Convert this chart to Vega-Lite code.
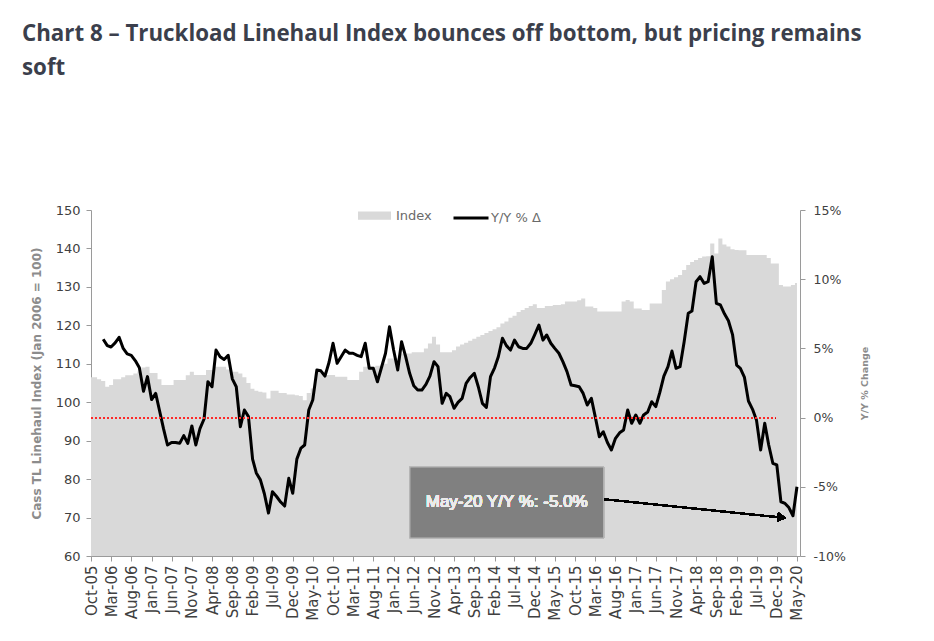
{
  "$schema": "https://vega.github.io/schema/vega-lite/v6.json",
  "width": 709,
  "height": 346,
  "autosize": {"type": "none"},
  "padding": {"left": 91, "top": 210, "right": 134, "bottom": 85},
  "background": "white",
  "config": {"view": {"stroke": null}, "axisX": {"labelOverlap": false}},
  "title": {
    "text": ["Chart 8 – Truckload Linehaul Index bounces off bottom, but pricing remains", "soft"],
    "anchor": "start",
    "frame": "group",
    "dx": -69,
    "dy": -120,
    "offset": 0,
    "font": "Open Sans",
    "fontWeight": "bold",
    "fontSize": 22.3,
    "color": "#3b3f4c",
    "lineHeight": 34
  },
  "data": {
    "values": [
      {"d": "2005-10-01", "idx": 106.5, "yoy": null},
      {"d": "2005-11-01", "idx": 106.5, "yoy": null},
      {"d": "2005-12-01", "idx": 106, "yoy": null},
      {"d": "2006-01-01", "idx": 105.5, "yoy": 5.66},
      {"d": "2006-02-01", "idx": 104, "yoy": 5.2},
      {"d": "2006-03-01", "idx": 104.5, "yoy": 5.1},
      {"d": "2006-04-01", "idx": 106, "yoy": 5.4},
      {"d": "2006-05-01", "idx": 106, "yoy": 5.8},
      {"d": "2006-06-01", "idx": 106.5, "yoy": 5.0},
      {"d": "2006-07-01", "idx": 107, "yoy": 4.6},
      {"d": "2006-08-01", "idx": 107, "yoy": 4.5},
      {"d": "2006-09-01", "idx": 107.5, "yoy": 4.1},
      {"d": "2006-10-01", "idx": 108, "yoy": 3.6},
      {"d": "2006-11-01", "idx": 109, "yoy": 1.9},
      {"d": "2006-12-01", "idx": 109.2, "yoy": 2.96},
      {"d": "2007-01-01", "idx": 107.6, "yoy": 1.3},
      {"d": "2007-02-01", "idx": 107.6, "yoy": 1.75},
      {"d": "2007-03-01", "idx": 106, "yoy": 0.55},
      {"d": "2007-04-01", "idx": 104.5, "yoy": -0.8},
      {"d": "2007-05-01", "idx": 104.5, "yoy": -1.98},
      {"d": "2007-06-01", "idx": 104.5, "yoy": -1.8},
      {"d": "2007-07-01", "idx": 105.8, "yoy": -1.8},
      {"d": "2007-08-01", "idx": 105.8, "yoy": -1.86},
      {"d": "2007-09-01", "idx": 105.8, "yoy": -1.3},
      {"d": "2007-10-01", "idx": 107, "yoy": -1.86},
      {"d": "2007-11-01", "idx": 107.9, "yoy": -0.6},
      {"d": "2007-12-01", "idx": 107.1, "yoy": -1.98},
      {"d": "2008-01-01", "idx": 107.1, "yoy": -0.8},
      {"d": "2008-02-01", "idx": 107.1, "yoy": -0.1},
      {"d": "2008-03-01", "idx": 108.4, "yoy": 2.59},
      {"d": "2008-04-01", "idx": 108.4, "yoy": 2.23},
      {"d": "2008-05-01", "idx": 109.2, "yoy": 4.88},
      {"d": "2008-06-01", "idx": 109.2, "yoy": 4.4},
      {"d": "2008-07-01", "idx": 109.2, "yoy": 4.2},
      {"d": "2008-08-01", "idx": 108.5, "yoy": 4.5},
      {"d": "2008-09-01", "idx": 107.9, "yoy": 2.8},
      {"d": "2008-10-01", "idx": 107.9, "yoy": 2.23},
      {"d": "2008-11-01", "idx": 107.5, "yoy": -0.66},
      {"d": "2008-12-01", "idx": 106.5, "yoy": 0.55},
      {"d": "2009-01-01", "idx": 105, "yoy": 0.07},
      {"d": "2009-02-01", "idx": 103.5, "yoy": -3.0},
      {"d": "2009-03-01", "idx": 103, "yoy": -4.0},
      {"d": "2009-04-01", "idx": 102.7, "yoy": -4.5},
      {"d": "2009-05-01", "idx": 102.5, "yoy": -5.5},
      {"d": "2009-06-01", "idx": 101, "yoy": -6.9},
      {"d": "2009-07-01", "idx": 103, "yoy": -5.35},
      {"d": "2009-08-01", "idx": 103, "yoy": -5.7},
      {"d": "2009-09-01", "idx": 102.4, "yoy": -6.1},
      {"d": "2009-10-01", "idx": 102.4, "yoy": -6.39},
      {"d": "2009-11-01", "idx": 102, "yoy": -4.39},
      {"d": "2009-12-01", "idx": 102, "yoy": -5.47},
      {"d": "2010-01-01", "idx": 101.8, "yoy": -3.0},
      {"d": "2010-02-01", "idx": 101.6, "yoy": -2.2},
      {"d": "2010-03-01", "idx": 100.5, "yoy": -1.98},
      {"d": "2010-04-01", "idx": 102.4, "yoy": 0.55},
      {"d": "2010-05-01", "idx": 103.6, "yoy": 1.27},
      {"d": "2010-06-01", "idx": 107.9, "yoy": 3.44},
      {"d": "2010-07-01", "idx": 107.9, "yoy": 3.38},
      {"d": "2010-08-01", "idx": 107.9, "yoy": 3.0},
      {"d": "2010-09-01", "idx": 107.1, "yoy": 4.0},
      {"d": "2010-10-01", "idx": 107.1, "yoy": 5.37},
      {"d": "2010-11-01", "idx": 106.6, "yoy": 3.92},
      {"d": "2010-12-01", "idx": 106.6, "yoy": 4.4},
      {"d": "2011-01-01", "idx": 106.6, "yoy": 4.88},
      {"d": "2011-02-01", "idx": 105.8, "yoy": 4.65},
      {"d": "2011-03-01", "idx": 105.8, "yoy": 4.65},
      {"d": "2011-04-01", "idx": 105.8, "yoy": 4.5},
      {"d": "2011-05-01", "idx": 107.9, "yoy": 4.4},
      {"d": "2011-06-01", "idx": 109.2, "yoy": 5.37},
      {"d": "2011-07-01", "idx": 109.2, "yoy": 3.56},
      {"d": "2011-08-01", "idx": 109.2, "yoy": 3.56},
      {"d": "2011-09-01", "idx": 109.5, "yoy": 2.59},
      {"d": "2011-10-01", "idx": 109.5, "yoy": 3.6},
      {"d": "2011-11-01", "idx": 110, "yoy": 4.65},
      {"d": "2011-12-01", "idx": 111.4, "yoy": 6.57},
      {"d": "2012-01-01", "idx": 111.4, "yoy": 4.88},
      {"d": "2012-02-01", "idx": 111.4, "yoy": 3.44},
      {"d": "2012-03-01", "idx": 112.7, "yoy": 5.48},
      {"d": "2012-04-01", "idx": 112.7, "yoy": 4.4},
      {"d": "2012-05-01", "idx": 112.7, "yoy": 3.2},
      {"d": "2012-06-01", "idx": 113, "yoy": 2.3},
      {"d": "2012-07-01", "idx": 113, "yoy": 2.0},
      {"d": "2012-08-01", "idx": 113, "yoy": 1.99},
      {"d": "2012-09-01", "idx": 114, "yoy": 2.4},
      {"d": "2012-10-01", "idx": 115.3, "yoy": 3.0},
      {"d": "2012-11-01", "idx": 117, "yoy": 4.04},
      {"d": "2012-12-01", "idx": 115, "yoy": 3.68},
      {"d": "2013-01-01", "idx": 113, "yoy": 1.03},
      {"d": "2013-02-01", "idx": 113, "yoy": 1.75},
      {"d": "2013-03-01", "idx": 113, "yoy": 1.51},
      {"d": "2013-04-01", "idx": 113.5, "yoy": 0.67},
      {"d": "2013-05-01", "idx": 114.5, "yoy": 1.1},
      {"d": "2013-06-01", "idx": 115, "yoy": 1.39},
      {"d": "2013-07-01", "idx": 115.5, "yoy": 2.48},
      {"d": "2013-08-01", "idx": 116, "yoy": 2.9},
      {"d": "2013-09-01", "idx": 116.5, "yoy": 3.2},
      {"d": "2013-10-01", "idx": 117, "yoy": 2.23},
      {"d": "2013-11-01", "idx": 117.5, "yoy": 1.03},
      {"d": "2013-12-01", "idx": 118, "yoy": 0.74},
      {"d": "2014-01-01", "idx": 118.5, "yoy": 2.96},
      {"d": "2014-02-01", "idx": 119, "yoy": 3.6},
      {"d": "2014-03-01", "idx": 119.5, "yoy": 4.4},
      {"d": "2014-04-01", "idx": 120.5, "yoy": 5.73},
      {"d": "2014-05-01", "idx": 121, "yoy": 5.2},
      {"d": "2014-06-01", "idx": 122, "yoy": 4.88},
      {"d": "2014-07-01", "idx": 122.5, "yoy": 5.6},
      {"d": "2014-08-01", "idx": 123.5, "yoy": 5.12},
      {"d": "2014-09-01", "idx": 124, "yoy": 5.0},
      {"d": "2014-10-01", "idx": 124.5, "yoy": 5.0},
      {"d": "2014-11-01", "idx": 125, "yoy": 5.37},
      {"d": "2014-12-01", "idx": 125.5, "yoy": 6.0},
      {"d": "2015-01-01", "idx": 124.5, "yoy": 6.69},
      {"d": "2015-02-01", "idx": 124.5, "yoy": 5.6},
      {"d": "2015-03-01", "idx": 125, "yoy": 5.97},
      {"d": "2015-04-01", "idx": 125, "yoy": 5.37},
      {"d": "2015-05-01", "idx": 125.3, "yoy": 5.0},
      {"d": "2015-06-01", "idx": 125.3, "yoy": 4.65},
      {"d": "2015-07-01", "idx": 125.5, "yoy": 4.04},
      {"d": "2015-08-01", "idx": 126.2, "yoy": 3.32},
      {"d": "2015-09-01", "idx": 126.2, "yoy": 2.36},
      {"d": "2015-10-01", "idx": 126.2, "yoy": 2.3},
      {"d": "2015-11-01", "idx": 126.5, "yoy": 2.23},
      {"d": "2015-12-01", "idx": 127, "yoy": 1.75},
      {"d": "2016-01-01", "idx": 124.9, "yoy": 0.91},
      {"d": "2016-02-01", "idx": 124.9, "yoy": 1.39},
      {"d": "2016-03-01", "idx": 124.5, "yoy": 0.07},
      {"d": "2016-04-01", "idx": 123.6, "yoy": -1.38},
      {"d": "2016-05-01", "idx": 123.6, "yoy": -1.02},
      {"d": "2016-06-01", "idx": 123.6, "yoy": -1.8},
      {"d": "2016-07-01", "idx": 123.6, "yoy": -2.34},
      {"d": "2016-08-01", "idx": 123.6, "yoy": -1.5},
      {"d": "2016-09-01", "idx": 123.6, "yoy": -1.1},
      {"d": "2016-10-01", "idx": 126.2, "yoy": -0.9},
      {"d": "2016-11-01", "idx": 126.6, "yoy": 0.55},
      {"d": "2016-12-01", "idx": 126.2, "yoy": -0.41},
      {"d": "2017-01-01", "idx": 124.4, "yoy": 0.19},
      {"d": "2017-02-01", "idx": 124.4, "yoy": -0.41},
      {"d": "2017-03-01", "idx": 124, "yoy": 0.19},
      {"d": "2017-04-01", "idx": 124, "yoy": 0.4},
      {"d": "2017-05-01", "idx": 125.7, "yoy": 1.15},
      {"d": "2017-06-01", "idx": 125.7, "yoy": 0.79},
      {"d": "2017-07-01", "idx": 125.7, "yoy": 1.8},
      {"d": "2017-08-01", "idx": 129.2, "yoy": 3.0},
      {"d": "2017-09-01", "idx": 131.4, "yoy": 3.68},
      {"d": "2017-10-01", "idx": 132, "yoy": 4.81},
      {"d": "2017-11-01", "idx": 132.5, "yoy": 3.56},
      {"d": "2017-12-01", "idx": 133.1, "yoy": 3.68},
      {"d": "2018-01-01", "idx": 134.4, "yoy": 5.48},
      {"d": "2018-02-01", "idx": 135.7, "yoy": 7.54},
      {"d": "2018-03-01", "idx": 136.5, "yoy": 7.7},
      {"d": "2018-04-01", "idx": 137, "yoy": 9.82},
      {"d": "2018-05-01", "idx": 137.5, "yoy": 10.18},
      {"d": "2018-06-01", "idx": 137.9, "yoy": 9.7},
      {"d": "2018-07-01", "idx": 138, "yoy": 9.82},
      {"d": "2018-08-01", "idx": 141.3, "yoy": 11.63},
      {"d": "2018-09-01", "idx": 138.7, "yoy": 8.26},
      {"d": "2018-10-01", "idx": 142.6, "yoy": 8.14},
      {"d": "2018-11-01", "idx": 141, "yoy": 7.5},
      {"d": "2018-12-01", "idx": 140.5, "yoy": 7.0},
      {"d": "2019-01-01", "idx": 139.8, "yoy": 6.0},
      {"d": "2019-02-01", "idx": 139.6, "yoy": 3.8},
      {"d": "2019-03-01", "idx": 139.5, "yoy": 3.56},
      {"d": "2019-04-01", "idx": 139.5, "yoy": 2.9},
      {"d": "2019-05-01", "idx": 138.3, "yoy": 1.2},
      {"d": "2019-06-01", "idx": 138.3, "yoy": 0.6},
      {"d": "2019-07-01", "idx": 138.3, "yoy": -0.2},
      {"d": "2019-08-01", "idx": 138.3, "yoy": -2.34},
      {"d": "2019-09-01", "idx": 138.3, "yoy": -0.41},
      {"d": "2019-10-01", "idx": 137.5, "yoy": -1.98},
      {"d": "2019-11-01", "idx": 136.1, "yoy": -3.3},
      {"d": "2019-12-01", "idx": 136.1, "yoy": -3.42},
      {"d": "2020-01-01", "idx": 130.5, "yoy": -6.08},
      {"d": "2020-02-01", "idx": 130.1, "yoy": -6.2},
      {"d": "2020-03-01", "idx": 130.1, "yoy": -6.5},
      {"d": "2020-04-01", "idx": 130.5, "yoy": -7.09},
      {"d": "2020-05-01", "idx": 131, "yoy": -5.0}
    ]
  },
  "layer": [
    {
      "mark": {"type": "area", "interpolate": "step", "color": "#d9d9d9"},
      "encoding": {
        "x": {
          "field": "d",
          "type": "temporal",
          "title": null,
          "scale": {
            "type": "utc",
            "domain": [
              {"year": 2005, "month": 10, "date": 1, "utc": true},
              {"year": 2020, "month": 5, "date": 24, "utc": true}
            ]
          },
          "axis": {
            "title": null,
            "orient": "bottom",
            "labelExpr": "utcFormat(datum.value, '%b-%y')",
            "labelAngle": 270,
            "labelFont": "DejaVu Sans",
            "labelFontSize": 15,
            "labelColor": "#404040",
            "labelPadding": 4,
            "tickSize": 5,
            "tickCount": 60,
            "tickColor": "#9a9a9a",
            "domainColor": "#9a9a9a",
            "grid": false,
            "labelOverlap": false,
            "labelFlush": false,
            "values": [
              {"year": 2005, "month": 10, "date": 1, "utc": true},
              {"year": 2006, "month": 3, "date": 1, "utc": true},
              {"year": 2006, "month": 8, "date": 1, "utc": true},
              {"year": 2007, "month": 1, "date": 1, "utc": true},
              {"year": 2007, "month": 6, "date": 1, "utc": true},
              {"year": 2007, "month": 11, "date": 1, "utc": true},
              {"year": 2008, "month": 4, "date": 1, "utc": true},
              {"year": 2008, "month": 9, "date": 1, "utc": true},
              {"year": 2009, "month": 2, "date": 1, "utc": true},
              {"year": 2009, "month": 7, "date": 1, "utc": true},
              {"year": 2009, "month": 12, "date": 1, "utc": true},
              {"year": 2010, "month": 5, "date": 1, "utc": true},
              {"year": 2010, "month": 10, "date": 1, "utc": true},
              {"year": 2011, "month": 3, "date": 1, "utc": true},
              {"year": 2011, "month": 8, "date": 1, "utc": true},
              {"year": 2012, "month": 1, "date": 1, "utc": true},
              {"year": 2012, "month": 6, "date": 1, "utc": true},
              {"year": 2012, "month": 11, "date": 1, "utc": true},
              {"year": 2013, "month": 4, "date": 1, "utc": true},
              {"year": 2013, "month": 9, "date": 1, "utc": true},
              {"year": 2014, "month": 2, "date": 1, "utc": true},
              {"year": 2014, "month": 7, "date": 1, "utc": true},
              {"year": 2014, "month": 12, "date": 1, "utc": true},
              {"year": 2015, "month": 5, "date": 1, "utc": true},
              {"year": 2015, "month": 10, "date": 1, "utc": true},
              {"year": 2016, "month": 3, "date": 1, "utc": true},
              {"year": 2016, "month": 8, "date": 1, "utc": true},
              {"year": 2017, "month": 1, "date": 1, "utc": true},
              {"year": 2017, "month": 6, "date": 1, "utc": true},
              {"year": 2017, "month": 11, "date": 1, "utc": true},
              {"year": 2018, "month": 4, "date": 1, "utc": true},
              {"year": 2018, "month": 9, "date": 1, "utc": true},
              {"year": 2019, "month": 2, "date": 1, "utc": true},
              {"year": 2019, "month": 7, "date": 1, "utc": true},
              {"year": 2019, "month": 12, "date": 1, "utc": true},
              {"year": 2020, "month": 5, "date": 1, "utc": true}
            ]
          }
        },
        "y": {
          "field": "idx",
          "type": "quantitative",
          "scale": {"domain": [60, 150], "zero": false, "nice": false},
          "axis": {
            "orient": "left",
            "values": [60, 70, 80, 90, 100, 110, 120, 130, 140, 150],
            "grid": false,
            "title": "Cass TL Linehaul Index (Jan 2006 = 100)",
            "titleFont": "DejaVu Sans",
            "titleFontWeight": "bold",
            "titleFontSize": 12,
            "titleColor": "#8c8c8c",
            "titlePadding": 12,
            "labelFont": "DejaVu Sans",
            "labelFontSize": 13,
            "labelColor": "#404040",
            "labelPadding": 6,
            "tickCount": 20,
            "tickSize": 5,
            "tickColor": "#9a9a9a",
            "domainColor": "#9a9a9a"
          }
        },
        "y2": {"datum": 60},
        "fill": {
          "datum": "Index",
          "scale": {"range": ["#d9d9d9"]},
          "legend": {
            "orient": "none",
            "legendX": 267,
            "legendY": -11,
            "title": null,
            "symbolType": "M-1,-0.25H1V0.25H-1Z",
            "symbolSize": 1089,
            "symbolStrokeWidth": 0,
            "labelFont": "DejaVu Sans",
            "labelFontSize": 13,
            "labelColor": "#6a6a6a",
            "labelOffset": 5
          }
        }
      }
    },
    {
      "layer": [
        {
          "mark": {"type": "line", "color": "black", "strokeWidth": 3, "strokeJoin": "round"},
          "encoding": {
            "x": {
              "field": "d",
              "type": "temporal",
              "title": null,
              "axis": {
                "title": null,
                "orient": "bottom",
                "labelExpr": "utcFormat(datum.value, '%b-%y')",
                "labelAngle": 270,
                "labelFont": "DejaVu Sans",
                "labelFontSize": 15,
                "labelColor": "#404040",
                "labelPadding": 4,
                "tickSize": 5,
                "tickCount": 60,
                "tickColor": "#9a9a9a",
                "domainColor": "#9a9a9a",
                "grid": false,
                "labelOverlap": false,
                "labelFlush": false,
                "values": [
                  {"year": 2005, "month": 10, "date": 1, "utc": true},
                  {"year": 2006, "month": 3, "date": 1, "utc": true},
                  {"year": 2006, "month": 8, "date": 1, "utc": true},
                  {"year": 2007, "month": 1, "date": 1, "utc": true},
                  {"year": 2007, "month": 6, "date": 1, "utc": true},
                  {"year": 2007, "month": 11, "date": 1, "utc": true},
                  {"year": 2008, "month": 4, "date": 1, "utc": true},
                  {"year": 2008, "month": 9, "date": 1, "utc": true},
                  {"year": 2009, "month": 2, "date": 1, "utc": true},
                  {"year": 2009, "month": 7, "date": 1, "utc": true},
                  {"year": 2009, "month": 12, "date": 1, "utc": true},
                  {"year": 2010, "month": 5, "date": 1, "utc": true},
                  {"year": 2010, "month": 10, "date": 1, "utc": true},
                  {"year": 2011, "month": 3, "date": 1, "utc": true},
                  {"year": 2011, "month": 8, "date": 1, "utc": true},
                  {"year": 2012, "month": 1, "date": 1, "utc": true},
                  {"year": 2012, "month": 6, "date": 1, "utc": true},
                  {"year": 2012, "month": 11, "date": 1, "utc": true},
                  {"year": 2013, "month": 4, "date": 1, "utc": true},
                  {"year": 2013, "month": 9, "date": 1, "utc": true},
                  {"year": 2014, "month": 2, "date": 1, "utc": true},
                  {"year": 2014, "month": 7, "date": 1, "utc": true},
                  {"year": 2014, "month": 12, "date": 1, "utc": true},
                  {"year": 2015, "month": 5, "date": 1, "utc": true},
                  {"year": 2015, "month": 10, "date": 1, "utc": true},
                  {"year": 2016, "month": 3, "date": 1, "utc": true},
                  {"year": 2016, "month": 8, "date": 1, "utc": true},
                  {"year": 2017, "month": 1, "date": 1, "utc": true},
                  {"year": 2017, "month": 6, "date": 1, "utc": true},
                  {"year": 2017, "month": 11, "date": 1, "utc": true},
                  {"year": 2018, "month": 4, "date": 1, "utc": true},
                  {"year": 2018, "month": 9, "date": 1, "utc": true},
                  {"year": 2019, "month": 2, "date": 1, "utc": true},
                  {"year": 2019, "month": 7, "date": 1, "utc": true},
                  {"year": 2019, "month": 12, "date": 1, "utc": true},
                  {"year": 2020, "month": 5, "date": 1, "utc": true}
                ]
              }
            },
            "y": {
              "field": "yoy",
              "type": "quantitative",
              "scale": {"domain": [-10, 15], "nice": false, "zero": false},
              "axis": {
                "orient": "right",
                "values": [-10, -5, 0, 5, 10, 15],
                "labelExpr": "datum.value + '%'",
                "grid": false,
                "title": "Y/Y % Change",
                "titleAngle": 270,
                "titleFont": "DejaVu Sans",
                "titleFontWeight": "bold",
                "titleFontSize": 9.5,
                "titleColor": "#8c8c8c",
                "titlePadding": 24,
                "labelFont": "DejaVu Sans",
                "labelFontSize": 12.5,
                "labelColor": "#404040",
                "labelPadding": 8,
                "tickCount": 20,
                "tickSize": 5,
                "tickColor": "#9a9a9a",
                "domainColor": "#9a9a9a"
              }
            },
            "stroke": {
              "datum": "Y/Y % Δ",
              "scale": {"range": ["black"]},
              "legend": {
                "orient": "none",
                "legendX": 361,
                "legendY": -11,
                "title": null,
                "symbolType": "stroke",
                "symbolSize": 1225,
                "symbolStrokeWidth": 3,
                "labelFont": "DejaVu Sans",
                "labelFontSize": 13,
                "labelColor": "#6a6a6a",
                "labelOffset": 1
              }
            }
          }
        },
        {
          "mark": {"type": "rule", "color": "#ff2a2a", "strokeWidth": 1.2, "strokeDash": [1.5, 2.5]},
          "encoding": {
            "x": {"datum": {"year": 2005, "month": 10, "date": 1, "utc": true}, "type": "temporal", "axis": {"labelOverlap": false, "tickCount": 60}},
            "x2": {"datum": {"year": 2019, "month": 11, "date": 18, "utc": true}},
            "y": {"datum": 0, "type": "quantitative"}
          }
        },
        {
          "mark": {"type": "rect", "fill": "#808080", "stroke": "#b8b8b8", "strokeWidth": 1},
          "encoding": {
            "x": {"datum": {"year": 2012, "month": 5, "date": 3, "utc": true}, "type": "temporal", "axis": {"labelOverlap": false, "tickCount": 60}},
            "x2": {"datum": {"year": 2016, "month": 5, "date": 4, "utc": true}},
            "y": {"datum": -3.57, "type": "quantitative"},
            "y2": {"datum": -8.7}
          }
        },
        {
          "mark": {"type": "text", "text": "May-20 Y/Y %: -5.0%", "font": "Liberation Sans", "fontSize": 17, "color": "#ececec", "align": "center", "baseline": "middle"},
          "encoding": {
            "x": {"datum": {"year": 2014, "month": 5, "date": 3, "utc": true}, "type": "temporal", "axis": {"labelOverlap": false, "tickCount": 60}},
            "y": {"datum": -6.13, "type": "quantitative"}
          }
        },
        {
          "mark": {"type": "rule", "color": "black", "strokeWidth": 1.5},
          "encoding": {
            "x": {"datum": {"year": 2016, "month": 5, "date": 10, "utc": true}, "type": "temporal", "axis": {"labelOverlap": false, "tickCount": 60}},
            "x2": {"datum": {"year": 2020, "month": 1, "date": 7, "utc": true}},
            "y": {"datum": -5.9, "type": "quantitative"},
            "y2": {"datum": -7.22}
          }
        },
        {
          "mark": {"type": "point", "shape": "triangle-right", "filled": true, "size": 90, "color": "black", "opacity": 1, "angle": 6.5},
          "encoding": {
            "x": {"datum": {"year": 2020, "month": 1, "date": 7, "utc": true}, "type": "temporal", "axis": {"labelOverlap": false, "tickCount": 60}},
            "y": {"datum": -7.22, "type": "quantitative"}
          }
        }
      ]
    }
  ],
  "resolve": {"scale": {"y": "independent"}}
}
